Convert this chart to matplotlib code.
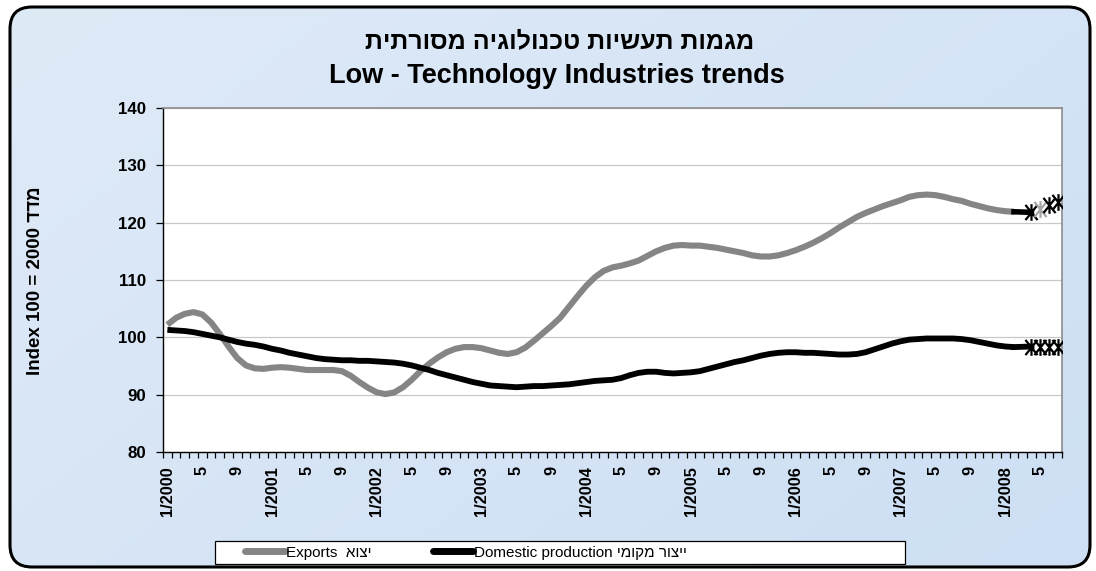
import numpy as np
import matplotlib
matplotlib.use("Agg")
import matplotlib.pyplot as plt
from matplotlib.patches import FancyBboxPatch, Rectangle
from matplotlib.lines import Line2D
from matplotlib.path import Path
from matplotlib.colors import LinearSegmentedColormap

plt.rcParams['font.family'] = ['Liberation Sans', 'DejaVu Sans']


def rtl(s):
    """matplotlib has no bidi support: lay Hebrew runs out in visual order."""
    return s[::-1]


# ---- texts ----
title_he = "מגמות תעשיות טכנולוגיה מסורתית"
title_en = "Low - Technology Industries trends"
ylabel_en = "Index 100 = 2000 "
ylabel_he = "מדד"
exports_name = ("Exports  ", "יצוא")
domestic_name = ("Domestic production ", "ייצור מקומי")

# ---- category axis: monthly, 1/2000 .. 7/2008 ----
start_year = 2000
n_months = 103

# ---- monthly index values (2000 = 100), from 1/2000 ----
exports = [102.2, 103.4, 104.1, 104.4, 104.0, 102.6, 100.6, 98.4, 96.4, 95.1,
           94.6, 94.5, 94.7, 94.8, 94.7, 94.5, 94.3, 94.3, 94.3, 94.3,
           94.1, 93.3, 92.2, 91.2, 90.4, 90.1, 90.4, 91.3, 92.6, 94.1,
           95.4, 96.5, 97.4, 98.0, 98.3, 98.3, 98.1, 97.7, 97.3, 97.1,
           97.4, 98.2, 99.4, 100.7, 102.0, 103.4, 105.3, 107.2, 109.0, 110.5,
           111.6, 112.2, 112.5, 112.9, 113.4, 114.2, 115.0, 115.6, 116.0, 116.1,
           116.0, 116.0, 115.8, 115.6, 115.3, 115.0, 114.7, 114.3, 114.1, 114.1,
           114.3, 114.7, 115.2, 115.8, 116.5, 117.3, 118.2, 119.2, 120.1, 121.0,
           121.7, 122.3, 122.9, 123.4, 123.9, 124.5, 124.8, 124.9, 124.8, 124.5,
           124.1, 123.8, 123.3, 122.9, 122.5, 122.2, 122.0, 121.9]

domestic = [101.3, 101.2, 101.1, 100.9, 100.6, 100.3, 100.0, 99.6, 99.2, 98.9,
            98.7, 98.4, 98.0, 97.7, 97.3, 97.0, 96.7, 96.4, 96.2, 96.1,
            96.0, 96.0, 95.9, 95.9, 95.8, 95.7, 95.6, 95.4, 95.1, 94.7,
            94.3, 93.8, 93.4, 93.0, 92.6, 92.2, 91.9, 91.6, 91.5, 91.4,
            91.3, 91.4, 91.5, 91.5, 91.6, 91.7, 91.8, 92.0, 92.2, 92.4,
            92.5, 92.6, 92.9, 93.4, 93.8, 94.0, 94.0, 93.8, 93.7, 93.8,
            93.9, 94.1, 94.5, 94.9, 95.3, 95.7, 96.0, 96.4, 96.8, 97.1,
            97.3, 97.4, 97.4, 97.3, 97.3, 97.2, 97.1, 97.0, 97.0, 97.1,
            97.4, 97.9, 98.4, 98.9, 99.3, 99.6, 99.7, 99.8, 99.8, 99.8,
            99.8, 99.7, 99.5, 99.2, 98.9, 98.6, 98.4, 98.3]

# preliminary months (marked with asterisks), month index from 1/2000
prelim_months = [99, 100, 101, 102]
exports_prelim = [121.8, 122.3, 123.0, 123.6]
domestic_prelim = [98.4, 98.4, 98.4, 98.4]
exports_prelim_colors = ['#000000', '#a6a6a6', '#000000', '#000000']

GRAY = '#858585'
BLACK = '#000000'

W, H = 1096, 571
fig = plt.figure(figsize=(W / 100, H / 100), dpi=100)
fig.patch.set_facecolor('white')

# ---- rounded chart-area background with soft gradient ----
bg = fig.add_axes([0, 0, 1, 1], zorder=0)
bg.set_xlim(0, W)
bg.set_ylim(H, 0)
bg.axis('off')
frame = FancyBboxPatch((10, 7), 1080, 560,
                       boxstyle="round,pad=0,rounding_size=22",
                       fc='none', ec='black', lw=2.2, zorder=3)
bg.add_patch(frame)
gx, gy = np.meshgrid(np.linspace(0, 1, 200), np.linspace(0, 1, 100))
grad = 0.6 * gx + 0.4 * gy
cmap = LinearSegmentedColormap.from_list('bgblue', ['#dfeaf7', '#cddff4'])
im = bg.imshow(grad, extent=(10, 1090, 567, 7), aspect='auto',
               cmap=cmap, interpolation='bilinear', zorder=1)
im.set_clip_path(frame)

# ---- plot area ----
L, R, T, B = 163, 1062, 108, 452
ax = fig.add_axes([L / W, 1 - B / H, (R - L) / W, (B - T) / H], zorder=2)
ax.set_facecolor('white')

x_main = np.arange(len(exports))
ax.plot(x_main, exports, color=GRAY, lw=4.4, solid_capstyle='butt', zorder=3)
ax.plot(np.arange(len(domestic)), domestic, color=BLACK, lw=4.2,
        solid_capstyle='butt', zorder=4)

# short black joins into the preliminary points
ax.plot([len(exports) - 1, prelim_months[0]], [exports[-1], exports_prelim[0]],
        color=BLACK, lw=4.0, zorder=4)
ax.plot([len(domestic) - 1, prelim_months[0]], [domestic[-1], domestic_prelim[0]],
        color=BLACK, lw=4.2, zorder=4)

asterisk = Path([(-0.8, -1), (0.8, 1), (-0.8, 1), (0.8, -1), (0, -1.1), (0, 1.1)],
                [Path.MOVETO, Path.LINETO] * 3)
for m, v, c in zip(prelim_months, exports_prelim, exports_prelim_colors):
    ax.plot([m], [v], marker=asterisk, ms=12, mew=1.6, color=c, ls='none', zorder=5)
ax.plot(prelim_months, domestic_prelim, marker=asterisk, ms=12, mew=1.6,
        color=BLACK, ls='none', zorder=5)

# axes styling
ax.set_xlim(-0.5, n_months - 0.5)
ax.set_ylim(80, 140)
ax.set_yticks(np.arange(80, 141, 10))
ax.yaxis.grid(True, color='#c8c8c8', lw=0.9)
ax.set_axisbelow(True)
for side in ('left', 'bottom'):
    ax.spines[side].set_color('black')
    ax.spines[side].set_linewidth(1.0)
for side in ('top', 'right'):
    ax.spines[side].set_color('#8c8c8c')
    ax.spines[side].set_linewidth(1.2)

tick_pos = np.arange(0, n_months, 4)
tick_labels = [f"1/{start_year + p // 12}" if p % 12 == 0 else str(p % 12 + 1)
               for p in tick_pos]
ax.set_xticks(tick_pos)
ax.set_xticklabels(tick_labels, rotation=90, fontweight='bold', fontsize=11.8,
                   va='top', ha='center')
ax.set_xticks(np.arange(-0.5, n_months, 1), minor=True)
ax.tick_params(axis='x', which='major', length=0, pad=10)
ax.tick_params(axis='x', which='minor', length=4, width=0.9, direction='out')
ax.tick_params(axis='y', length=5, width=0.9, direction='out', pad=7)
for lab in ax.get_yticklabels():
    lab.set_fontweight('bold')
    lab.set_fontsize(12.2)

# ---- titles ----
fig.text(560 / W, 1 - 48 / H, rtl(title_he), ha='center', va='baseline',
         fontsize=18, fontweight='bold')
fig.text(557 / W, 1 - 83 / H, title_en, ha='center', va='baseline',
         fontsize=19.5, fontweight='bold')
fig.text(36 / W, 1 - 281 / H, ylabel_en + rtl(ylabel_he), rotation=90,
         ha='center', va='center', fontsize=13.5, fontweight='bold')

# ---- legend ----
bg.add_patch(Rectangle((215, 541), 690, 23, fc='white', ec='black', lw=0.9, zorder=4))
handles = [Line2D([], [], color=GRAY, lw=5.0, solid_capstyle='round'),
           Line2D([], [], color=BLACK, lw=5.0, solid_capstyle='round')]
labels = [exports_name[0] + rtl(exports_name[1]),
          domestic_name[0] + rtl(domestic_name[1])]
leg = fig.legend(handles, labels, loc='center left',
                 bbox_to_anchor=(245 / W, 1 - 552.5 / H), ncol=2, frameon=False,
                 handlelength=2.6, handletextpad=0.1, columnspacing=4.0,
                 fontsize=11, borderpad=0, borderaxespad=0)
leg.set_zorder(5)

fig.savefig('out.png', dpi=100)
